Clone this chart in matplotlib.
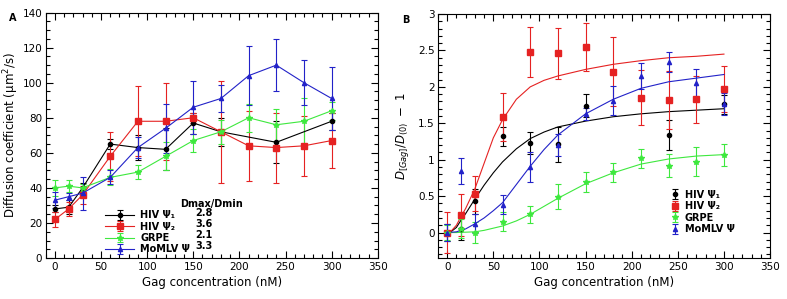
import matplotlib
matplotlib.use("Agg")
import matplotlib.pyplot as plt
from matplotlib.ticker import MultipleLocator

# ---- panel A: diffusion coefficient ----
x_all = [0, 15, 30, 60, 90, 120, 150, 180, 210, 240, 270, 300]
x_hiv1 = [0, 15, 30, 60, 90, 120, 150, 180, 240, 300]

a_hiv1 = [28, 29, 40, 65, 63, 62, 77, 72, 66, 78]
a_hiv1_err = [2, 4, 3, 3, 7, 12, 6, 8, 12, 5]
a_hiv2 = [22, 28, 36, 58, 78, 78, 80, 72, 64, 63, 64, 67]
a_hiv2_err = [4.5, 4, 5, 14, 20, 22, 3, 29, 20, 20, 17, 15.5]
a_grpe = [40, 41, 40, 46, 49, 58, 67, 72, 80, 76, 78, 84]
a_grpe_err = [4.5, 3.5, 2, 4.5, 4, 8, 6.5, 7, 8, 9, 13, 5]
a_momlv = [33, 35, 37, 46, 63, 74, 86, 91, 104, 110, 100, 91]
a_momlv_err = [4.5, 2, 9.5, 4, 6, 14, 15, 7.5, 17, 15, 13, 18]
ratios = ["2.8", "3.6", "2.1", "3.3"]

# ---- panel B: normalised increase ----
xb_hiv1 = [0, 15, 30, 60, 90, 120, 150, 240, 300]
b_hiv1 = [0, 0.05, 0.43, 1.32, 1.23, 1.21, 1.74, 1.34, 1.76]
b_hiv1_err = [0.12, 0.15, 0.17, 0.13, 0.15, 0.24, 0.16, 0.21, 0.13]
b_hiv2 = [0, 0.24, 0.53, 1.59, 2.48, 2.46, 2.55, 2.21, 1.85, 1.82, 1.83, 1.97]
b_hiv2_err = [0.28, 0.29, 0.24, 0.33, 0.34, 0.35, 0.33, 0.47, 0.38, 0.4, 0.32, 0.32]
b_grpe = [0, 0.05, 0.0, 0.15, 0.25, 0.49, 0.69, 0.83, 1.02, 0.92, 0.97, 1.07]
b_grpe_err = [0.1, 0.13, 0.15, 0.13, 0.12, 0.17, 0.14, 0.13, 0.13, 0.16, 0.2, 0.15]
b_momlv = [0, 0.84, 0.12, 0.38, 0.9, 1.2, 1.63, 1.81, 2.15, 2.34, 2.05, 1.77]
b_momlv_err = [0.12, 0.18, 0.13, 0.13, 0.2, 0.15, 0.08, 0.2, 0.18, 0.14, 0.2, 0.15]

# fitted curves
fit_x = [0, 5, 10, 15, 20, 30, 40, 50, 60, 75, 90, 105, 120, 150, 180, 210, 240, 270, 300]
fit_hiv1 = [0, 0.02, 0.07, 0.17, 0.26, 0.46, 0.65, 0.82, 0.97, 1.15, 1.29, 1.38, 1.45, 1.53, 1.59, 1.63, 1.66, 1.68, 1.70]
fit_hiv2 = [0, 0.03, 0.1, 0.22, 0.33, 0.6, 0.95, 1.3, 1.55, 1.83, 2.0, 2.09, 2.15, 2.24, 2.31, 2.36, 2.40, 2.42, 2.45]
fit_grpe = [0, 0, 0, 0.003, 0.005, 0.01, 0.03, 0.06, 0.09, 0.16, 0.25, 0.36, 0.47, 0.67, 0.82, 0.94, 1.01, 1.05, 1.07]
fit_momlv = [0, 0.005, 0.01, 0.03, 0.05, 0.12, 0.2, 0.3, 0.41, 0.66, 0.91, 1.14, 1.34, 1.63, 1.83, 1.98, 2.07, 2.12, 2.17]

labels = ["HIV Ψ₁", "HIV Ψ₂", "GRPE", "MoMLV Ψ"]
colors = ["black", "#e52222", "#3ee83e", "#2222c8"]
markers = ["o", "s", "*", "^"]
msizes = [3, 4, 4, 3]

plt.rcParams["font.family"] = "DejaVu Sans"
plt.rcParams["font.size"] = 7.5

fig = plt.figure(figsize=(7.87, 2.99), dpi=100)
ax_a = fig.add_axes([0.058, 0.137, 0.422, 0.821])
ax_b = fig.add_axes([0.5565, 0.137, 0.422, 0.816])

a_series = [(x_hiv1, a_hiv1, a_hiv1_err), (x_all, a_hiv2, a_hiv2_err),
            (x_all, a_grpe, a_grpe_err), (x_all, a_momlv, a_momlv_err)]
for (xs, ys, es), lab, c, m, ms in zip(a_series, labels, colors, markers, msizes):
    ax_a.errorbar(xs, ys, yerr=es, color=c, marker=m, markersize=ms, lw=0.8,
                  elinewidth=0.8, capsize=2.5, capthick=0.8, label=lab)

b_series = [(xb_hiv1, b_hiv1, b_hiv1_err), (x_all, b_hiv2, b_hiv2_err),
            (x_all, b_grpe, b_grpe_err), (x_all, b_momlv, b_momlv_err)]
fits = [fit_hiv1, fit_hiv2, fit_grpe, fit_momlv]
for (xs, ys, es), fy, lab, c, m, ms in zip(b_series, fits, labels, colors, markers, msizes):
    ax_b.plot(fit_x, fy, color=c, lw=0.8)
    ax_b.errorbar(xs, ys, yerr=es, color=c, marker=m, markersize=ms, ls="none",
                  elinewidth=0.8, capsize=2.5, capthick=0.8, label=lab)

for ax in (ax_a, ax_b):
    ax.set_xlim(-10, 350)
    ax.xaxis.set_major_locator(MultipleLocator(50))
    ax.xaxis.set_minor_locator(MultipleLocator(10))
    ax.tick_params(which="both", direction="in", top=True, right=True,
                   labelsize=7.5, width=0.8, pad=2.5)
    ax.tick_params(which="major", length=5)
    ax.tick_params(which="minor", length=3)
    ax.set_xlabel("Gag concentration (nM)", fontsize=8.5, labelpad=3)
    for s in ax.spines.values():
        s.set_linewidth(0.8)

ax_a.set_ylim(0, 140)
ax_a.yaxis.set_major_locator(MultipleLocator(20))
ax_a.yaxis.set_minor_locator(MultipleLocator(5))
ax_a.set_ylabel("Diffusion coefficient (μm$^2$/s)", fontsize=8.5, labelpad=1)

ax_b.set_ylim(-0.35, 3)
ax_b.yaxis.set_minor_locator(MultipleLocator(0.1))
ax_b.set_yticks([0, 0.5, 1, 1.5, 2, 2.5, 3])
ax_b.set_yticklabels(["0", "0.5", "1", "1.5", "2", "2.5", "3"])
ax_b.set_ylabel(r"$D_{[Gag]}/D_{(0)}\ -\ 1$", fontsize=8.5, labelpad=5)

ax_a.legend(loc="upper left", bbox_to_anchor=(0.165, 0.215), frameon=False,
            prop={"weight": "bold", "size": 7}, handlelength=3,
            labelspacing=0.15, borderpad=0, handletextpad=0.6)
ax_a.text(0.5, 0.2, "Dmax/Dmin", transform=ax_a.transAxes, fontsize=7,
          fontweight="bold", ha="center", va="bottom")
for i, r in enumerate(ratios):
    ax_a.text(0.45, 0.185 - i * 0.0455, r, transform=ax_a.transAxes, fontsize=7,
              fontweight="bold", ha="left", va="center")

ax_b.legend(loc="upper left", bbox_to_anchor=(0.685, 0.3), frameon=False,
            prop={"weight": "bold", "size": 7}, handlelength=1,
            labelspacing=0.15, borderpad=0, handletextpad=0.5)

fig.text(0.012, 0.955, "A", fontsize=7, fontweight="bold", va="top")
fig.text(0.511, 0.95, "B", fontsize=7, fontweight="bold", va="top")

fig.savefig("out.png", dpi=100)
